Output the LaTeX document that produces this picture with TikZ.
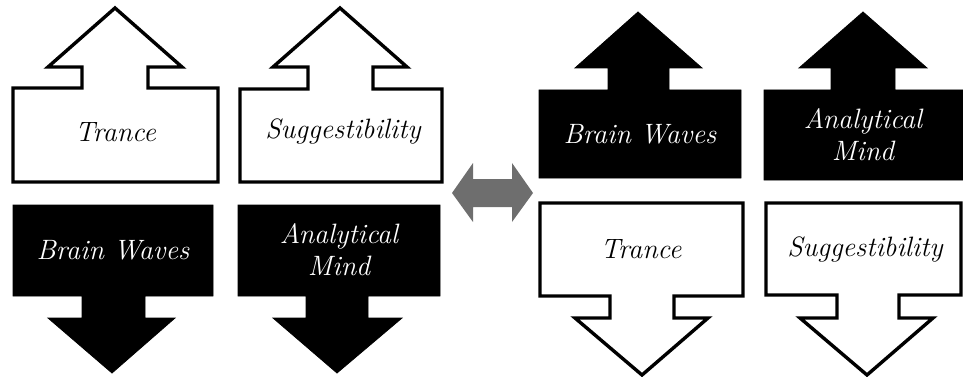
\documentclass[tikz,border=0pt]{standalone}
\usepackage{fontspec}
\begin{document}
\begin{tikzpicture}[x=1pt,y=-1pt,
  outl/.style={draw=black,line width=3.4pt,fill=white,line join=miter},
  solid/.style={fill=black,draw=black,line width=0.8pt},
  wtext/.style={text=white,font=\fontsize{28}{32}\selectfont\itshape,align=center},
  btext/.style={text=black,font=\fontsize{28}{32}\selectfont\itshape,align=center},
  grayarrow/.style={fill=black!57,draw=none}]
\useasboundingbox (0,0) rectangle (963,377);
% left panel, top
\draw[outl] (13,88)--(82,88)--(82,67)--(48,67)--(115,8)--(182,67)--(148,67)--(148,88)--(218,88)--(218,182)--(13,182)--cycle;
\node[btext] (trL) at (115.5,132) {Trance};
\draw[outl] (240,89)--(308,89)--(308,67)--(273,67)--(340,8)--(407,67)--(373,67)--(373,89)--(442,89)--(442,182)--(240,182)--cycle;
\node[btext] (suL) at (343,132) {Suggestibility};
% left panel, bottom
\draw[solid] (13,205)--(213,205)--(213,296)--(145,296)--(145,318)--(175,318)--(112,373)--(48,318)--(82,318)--(82,296)--(13,296)--cycle;
\node[wtext] (bwL) at (113,250) {Brain Waves};
\draw[solid] (238,205)--(440,205)--(440,296)--(368,296)--(368,318)--(402,318)--(337,373)--(273,318)--(306,318)--(306,296)--(238,296)--cycle;
\node[wtext] (amL) at (339,250) {Analytical\\Mind};
% gray double arrow
\fill[grayarrow] (452,193)--(473,163)--(473,179)--(512,179)--(512,163)--(533,193)--(512,222)--(512,207)--(473,207)--(473,222)--cycle;
% right panel, top
\draw[solid] (539,90)--(608,90)--(608,68)--(575,68)--(638,12)--(702,68)--(669,68)--(669,90)--(741,90)--(741,178)--(539,178)--cycle;
\node[wtext] (bwR) at (640,134) {Brain Waves};
\draw[solid] (764,90)--(831,90)--(831,68)--(799,68)--(863,12)--(927,68)--(895,68)--(895,90)--(963,90)--(963,180)--(764,180)--cycle;
\node[wtext] (amR) at (863,135) {Analytical\\Mind};
% right panel, bottom
\draw[outl] (540,203)--(743,203)--(743,296)--(674,296)--(674,318)--(708,318)--(642,375)--(575,318)--(610,318)--(610,296)--(540,296)--cycle;
\node[btext] (trR) at (641,249) {Trance};
\draw[outl] (766,203)--(961,203)--(961,295)--(899,295)--(899,318)--(933,318)--(867,375)--(800,318)--(837,318)--(837,295)--(766,295)--cycle;
\node[btext] (suR) at (865,249) {Suggestibility};
\end{tikzpicture}
\end{document}
